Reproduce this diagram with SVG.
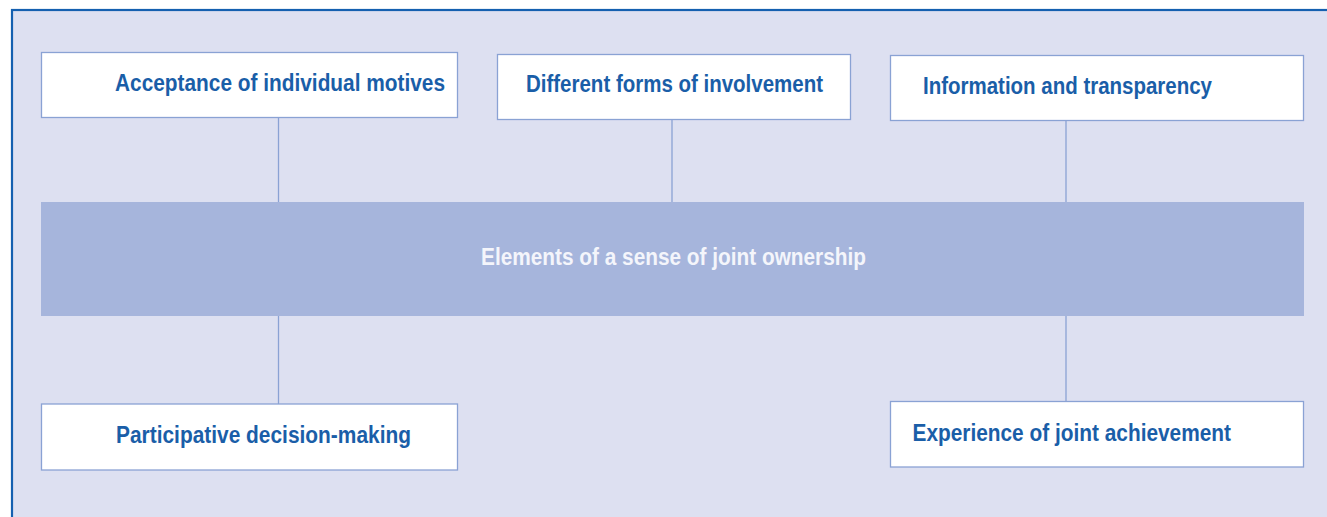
<svg xmlns="http://www.w3.org/2000/svg" width="1327" height="517" viewBox="0 0 1327 517">
<style>
.box{fill:#ffffff;stroke:#8aa2d4;stroke-width:1.3}
.lbl{font-family:"Liberation Sans","DejaVu Sans",sans-serif;font-weight:bold;font-size:23px;fill:#1a5ea8}
.ctr{font-family:"Liberation Sans","DejaVu Sans",sans-serif;font-weight:bold;font-size:23px;fill:#f4f5fb}
.con{stroke:#8aa2d4;stroke-width:1.3;fill:none}
</style>
<rect x="0" y="0" width="1327" height="517" fill="#ffffff"/>
<rect id="frame" x="12" y="10" width="1330" height="520" fill="#dde0f1" stroke="#1560b0" stroke-width="2.2"/>
<g id="connectors">
<line class="con" x1="278.5" y1="117" x2="278.5" y2="202"/>
<line class="con" x1="672" y1="119" x2="672" y2="202"/>
<line class="con" x1="1066" y1="120" x2="1066" y2="202"/>
<line class="con" x1="278.5" y1="316" x2="278.5" y2="404"/>
<line class="con" x1="1066" y1="316" x2="1066" y2="401"/>
</g>
<g id="center">
<rect x="41" y="202" width="1263" height="114" fill="#a6b5dc"/>
<text class="ctr" x="481" y="265" textLength="385" lengthAdjust="spacingAndGlyphs">Elements of a sense of joint ownership</text>
</g>
<g id="n1">
<rect class="box" x="41.5" y="52.5" width="416" height="65"/>
<text class="lbl" x="115" y="90.5" textLength="330" lengthAdjust="spacingAndGlyphs">Acceptance of individual motives</text>
</g>
<g id="n2">
<rect class="box" x="497.5" y="54.5" width="353" height="65"/>
<text class="lbl" x="526" y="92" textLength="297" lengthAdjust="spacingAndGlyphs">Different forms of involvement</text>
</g>
<g id="n3">
<rect class="box" x="890.5" y="55.5" width="413" height="65"/>
<text class="lbl" x="923" y="94" textLength="289" lengthAdjust="spacingAndGlyphs">Information and transparency</text>
</g>
<g id="n4">
<rect class="box" x="41.5" y="404" width="416" height="66"/>
<text class="lbl" x="116" y="443.3" textLength="295" lengthAdjust="spacingAndGlyphs">Participative decision-making</text>
</g>
<g id="n5">
<rect class="box" x="890.5" y="401.5" width="413" height="65.5"/>
<text class="lbl" x="912.5" y="440.7" textLength="318.5" lengthAdjust="spacingAndGlyphs">Experience of joint achievement</text>
</g>
</svg>
